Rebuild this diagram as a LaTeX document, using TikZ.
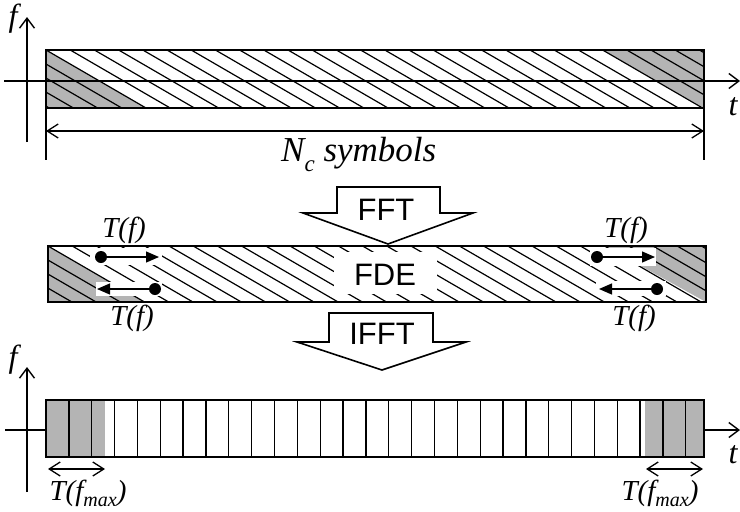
\documentclass[tikz,border=0pt]{standalone}
\usepackage{fontspec}
\setmainfont{Liberation Serif}
\newfontfamily\arialf{Liberation Sans}
\usetikzlibrary{arrows.meta}
\definecolor{mygray}{RGB}{180,180,180}
\begin{document}
\begin{tikzpicture}[x=1pt,y=-1pt,
  box/.style={draw=black,line width=1.6pt},
  hatchline/.style={line width=1.2pt},
  axisline/.style={line width=1.4pt,-{Straight Barb[length=10pt,width=15pt]}},
  plainline/.style={line width=1.4pt},
  dimline/.style={line width=1.3pt,{Straight Barb[length=11pt,width=14pt]}-{Straight Barb[length=11pt,width=14pt]}},
  blockarrow/.style={draw=black,fill=white,line width=1.6pt,line join=miter},
  lbl/.style={font=\fontsize{29}{31}\selectfont\itshape,anchor=base,inner sep=0pt},
  biglbl/.style={font=\fontsize{32}{34}\selectfont\itshape,anchor=base,inner sep=0pt},
  sanslbl/.style={font=\fontsize{31}{33}\selectfont\arialf,anchor=base,inner sep=0pt},
  dot/.style={circle,fill=black,inner sep=0pt,minimum size=12pt},
  tarrow/.style={line width=1.3pt,-{Triangle[length=13pt,width=11pt]}},
  whitebox/.style={fill=white,draw=none},
  grayfill/.style={fill=mygray,draw=none}
]
\useasboundingbox (0,0) rectangle (740,512);

% ---------------- top panel ----------------
\path[grayfill] (46,50) -- (146,108) -- (46,108) -- cycle;
\path[grayfill] (603,50) -- (704,50) -- (704,108) -- cycle;
\begin{scope}
  \clip (46,50) rectangle (704,108);
  \foreach \k in {-5,...,28} {
    \draw[hatchline] ({46+24.2*\k},50) -- ++(100,58);
  }
\end{scope}
\draw[box] (46,50) rectangle (704,108);
\coordinate (ax1l) at (4,81);
\coordinate (ax1r) at (740,81);
\coordinate (ay1b) at (27,142);
\coordinate (ay1t) at (27,17);
\draw[axisline] (ax1l) -- (ax1r);
\draw[axisline] (ay1b) -- (ay1t);
\node[biglbl] (f1) at (13,26) {f};
\node[biglbl] (t1) at (733,115) {t};
\coordinate (ext1a) at (46,108);
\coordinate (ext1b) at (46,160);
\coordinate (ext2a) at (704,108);
\coordinate (ext2b) at (704,160);
\draw[plainline] (ext1a) -- (ext1b);
\draw[plainline] (ext2a) -- (ext2b);
\coordinate (dimL) at (46,131);
\coordinate (dimR) at (704,131);
\draw[dimline] (dimL) -- (dimR);
\node[font=\fontsize{35}{37}\selectfont\itshape,anchor=base west,inner sep=0pt] (nc) at (281,161) {N\raisebox{-0.3em}{\fontsize{23}{24}\selectfont c} symbols};

% ---------------- FFT block arrow ----------------
\draw[blockarrow] (337,187) -- (440,187) -- (440,213) -- (473,213) -- (388,244) -- (303,213) -- (337,213) -- cycle;
\node[sanslbl] (fft) at (386,220) {FFT};

% ---------------- middle panel ----------------
\path[grayfill] (48,246) -- (144.5,302) -- (48,302) -- cycle;
\path[grayfill] (604.6,246) -- (706,246) -- (706,302) -- cycle;
\begin{scope}
  \clip (48,246) rectangle (706,302);
  \foreach \k in {-5,...,28} {
    \draw[hatchline] ({48+24.2*\k},246) -- ++(96.5,56);
  }
\end{scope}
\fill[whitebox] (90,248) rectangle (162,265);
\fill[whitebox] (96,282) rectangle (162,296);
\fill[whitebox] (590,248) rectangle (656,266);
\fill[whitebox] (596,281) rectangle (666,296);
\fill[whitebox] (334,252) rectangle (437,294);
\draw[box] (48,246) rectangle (706,302);
\node[sanslbl] (fde) at (385,285) {FDE};
\node[dot] (d1) at (101,257) {};
\coordinate (e1) at (159,257);
\draw[tarrow] (d1) -- (e1);
\node[dot] (d2) at (155,289) {};
\coordinate (e2) at (97,289);
\draw[tarrow] (d2) -- (e2);
\node[dot] (d3) at (597,257) {};
\coordinate (e3) at (655,257);
\draw[tarrow] (d3) -- (e3);
\node[dot] (d4) at (657,289) {};
\coordinate (e4) at (599,289);
\draw[tarrow] (d4) -- (e4);
\node[lbl] (tf1) at (124,237) {T(f)};
\node[lbl] (tf2) at (132,325) {T(f)};
\node[lbl] (tf3) at (626,237) {T(f)};
\node[lbl] (tf4) at (634,325) {T(f)};

% ---------------- IFFT block arrow ----------------
\draw[blockarrow] (329,313) -- (433,313) -- (433,342) -- (466,342) -- (382,370) -- (297,342) -- (329,342) -- cycle;
\node[sanslbl] (ifft) at (382,344) {IFFT};

% ---------------- bottom panel ----------------
\path[grayfill] (46,400) rectangle (105,457);
\path[grayfill] (645,400) rectangle (704,457);
\foreach \k in {1,...,28} {
  \draw[line width=1.3pt] ({46+22.85*\k},400) -- ({46+22.85*\k},457);
}
\draw[box] (46,400) rectangle (704,457);
\coordinate (ax3l) at (5,430);
\coordinate (ax3m) at (46,430);
\coordinate (ax3s) at (704,430);
\coordinate (ax3r) at (740,430);
\draw[plainline] (ax3l) -- (ax3m);
\draw[axisline] (ax3s) -- (ax3r);
\coordinate (ay3b) at (27,492);
\coordinate (ay3t) at (27,367);
\draw[axisline] (ay3b) -- (ay3t);
\node[biglbl] (f3) at (13,367) {f};
\node[biglbl] (t3) at (733,463) {t};
\coordinate (dmL1) at (48,469);
\coordinate (dmR1) at (105,469);
\coordinate (dmL2) at (646,469);
\coordinate (dmR2) at (703,469);
\draw[dimline] (dmL1) -- (dmR1);
\draw[dimline] (dmL2) -- (dmR2);
\node[lbl] (tm1) at (88,500) {T(f\raisebox{-0.22em}{\fontsize{20}{21}\selectfont max})};
\node[lbl] (tm2) at (660,500) {T(f\raisebox{-0.22em}{\fontsize{20}{21}\selectfont max})};
\end{tikzpicture}
\end{document}
